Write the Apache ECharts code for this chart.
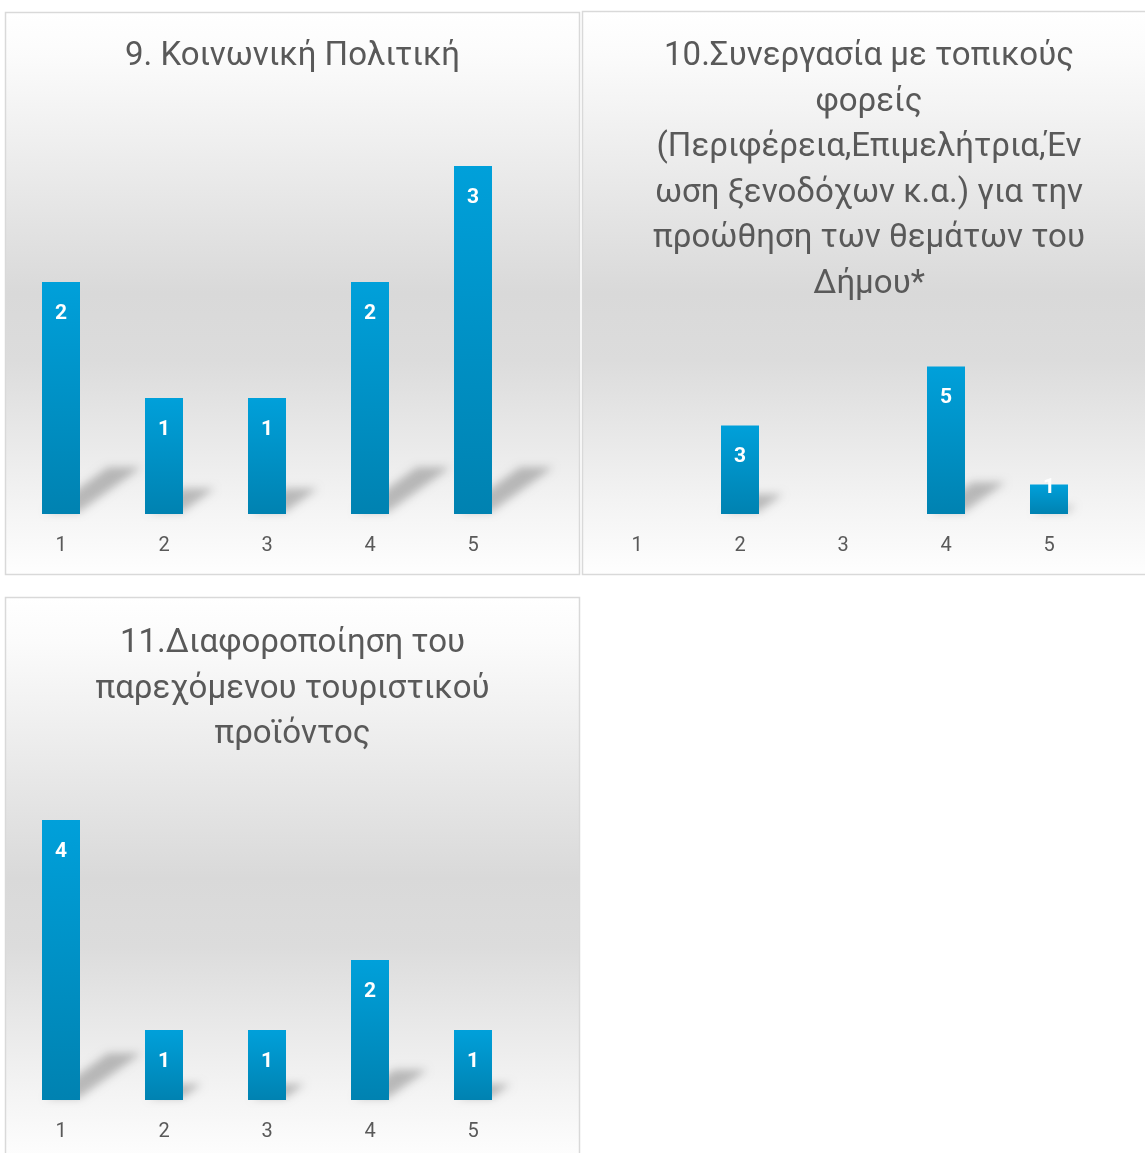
<!DOCTYPE html>
<html>
<head>
<meta charset="utf-8">
<script src="https://cdn.jsdelivr.net/npm/echarts@6/dist/echarts.min.js"></script>
<style>
html,body{margin:0;padding:0;background:#ffffff;overflow:hidden;}
#main{width:1145px;height:1153px;}
</style>
</head>
<body>
<div id="main"></div>
<script>
// ---- data ----
const categories = ['1', '2', '3', '4', '5'];
const title9 = '9. Κοινωνική Πολιτική';
const title10 = '10.Συνεργασία με τοπικούς\nφορείς\n(Περιφέρεια,Επιμελήτρια,Έν\nωση ξενοδόχων κ.α.) για την\nπροώθηση των θεμάτων του\nΔήμου*';
const title11 = '11.Διαφοροποίηση του\nπαρεχόμενου τουριστικού\nπροϊόντος';
const values9 = [2, 1, 1, 2, 3];
const values10 = [null, 3, null, 5, 1];
const values11 = [4, 1, 1, 2, 1];
const axisMax9 = 3.5;
const axisMax10 = 6;
const axisMax11 = 4.5;

// ---- layout / style ----
const FONT = 'Roboto, "Open Sans", "Noto Sans", sans-serif';
const TEXT_COLOR = '#595959';
const panels = [
  { x: 5.5, y: 12.5, w: 574, h: 562, grid: { left: 9.5, top: 108, width: 515, height: 406 }, titleX: 292.5, titleY: 34,
    title: title9, values: values9, max: axisMax9 },
  { x: 582.5, y: 11.5, w: 600, h: 563, grid: { left: 585.5, top: 337, width: 515, height: 177 }, titleX: 869, titleY: 34,
    title: title10, values: values10, max: axisMax10 },
  { x: 5.5, y: 597.5, w: 574, h: 563, grid: { left: 9.5, top: 785, width: 515, height: 315 }, titleX: 292.5, titleY: 621,
    title: title11, values: values11, max: axisMax11 }
];

const bgGradient = {
  type: 'linear', x: 0, y: 0, x2: 0, y2: 1,
  colorStops: [
    { offset: 0, color: '#ffffff' },
    { offset: 0.08, color: '#fbfbfb' },
    { offset: 0.5, color: '#d9d9d9' },
    { offset: 0.62, color: '#dcdcdc' },
    { offset: 0.88, color: '#f4f4f4' },
    { offset: 1, color: '#fefefe' }
  ]
};
const barGradient = {
  type: 'linear', x: 0, y: 0, x2: 0, y2: 1,
  colorStops: [
    { offset: 0, color: '#00a0da' },
    { offset: 1, color: '#0082b1' }
  ]
};

const BAR_W = 38;
const OFF = 3000;
function shadowItem(params, api) {
  const v = api.value(1);
  if (v == null || isNaN(v) || v === 0) return null;
  const idx = api.value(0);
  const base = api.coord([idx, 0]);
  const top = api.coord([idx, v]);
  const h = base[1] - top[1];
  const dx = Math.min(0.28 * h, 62);
  const dy = 0.72 * dx;
  const x0 = base[0] - BAR_W / 2;
  const y0 = base[1] - 2;
  const s = 4;
  return {
    type: 'polygon',
    silent: true,
    shape: { points: [
      [x0 + s - OFF, y0], [x0 + BAR_W - 1 - OFF, y0],
      [x0 + BAR_W - 1 + dx - OFF, y0 - dy], [x0 + s + dx - OFF, y0 - dy]
    ] },
    style: { fill: '#000', shadowBlur: 9, shadowColor: 'rgba(0,0,0,0.24)', shadowOffsetX: OFF, shadowOffsetY: 0 }
  };
}

const option = {
  animation: false,
  backgroundColor: '#ffffff',
  title: panels.map(p => ({
    text: p.title,
    left: p.titleX,
    top: p.titleY,
    textAlign: 'center',
    padding: 0,
    textStyle: { fontFamily: FONT, fontSize: 33, fontWeight: 'normal', color: TEXT_COLOR, lineHeight: 45.6 }
  })),
  graphic: panels.map(p => ({
    type: 'rect', z: -10, silent: true,
    shape: { x: p.x, y: p.y, width: p.w, height: p.h },
    style: { fill: bgGradient, stroke: '#d9d9d9', lineWidth: 1.5 }
  })),
  grid: panels.map(p => Object.assign({ containLabel: false, outerBoundsMode: 'none' }, p.grid)),
  xAxis: panels.map((p, i) => ({
    type: 'category', gridIndex: i, data: categories,
    axisLine: { show: false }, axisTick: { show: false }, splitLine: { show: false },
    axisLabel: { color: TEXT_COLOR, fontSize: 20, fontFamily: FONT, margin: 22 }
  })),
  yAxis: panels.map((p, i) => ({
    type: 'value', gridIndex: i, min: 0, max: p.max, show: false,
    splitLine: { show: false }
  })),
  series: [].concat(
    panels.map((p, i) => ({
      type: 'custom', xAxisIndex: i, yAxisIndex: i, clip: false, silent: true, z: 1,
      renderItem: shadowItem,
      data: p.values.map((v, j) => [j, v])
    })),
    panels.map((p, i) => ({
      type: 'bar', xAxisIndex: i, yAxisIndex: i, barWidth: BAR_W, z: 3,
      itemStyle: { color: barGradient },
      label: { show: true, position: 'insideTop', distance: 21, color: '#ffffff', fontWeight: 'bold', fontSize: 21, fontFamily: FONT },
      data: p.values.map(v => (v != null && v / p.max < 0.2) ? { value: v, label: { distance: -7 } } : v)
    }))
  )
};

const chart = echarts.init(document.getElementById('main'), null, { renderer: 'canvas' });
chart.setOption(option);
</script>
</body>
</html>
